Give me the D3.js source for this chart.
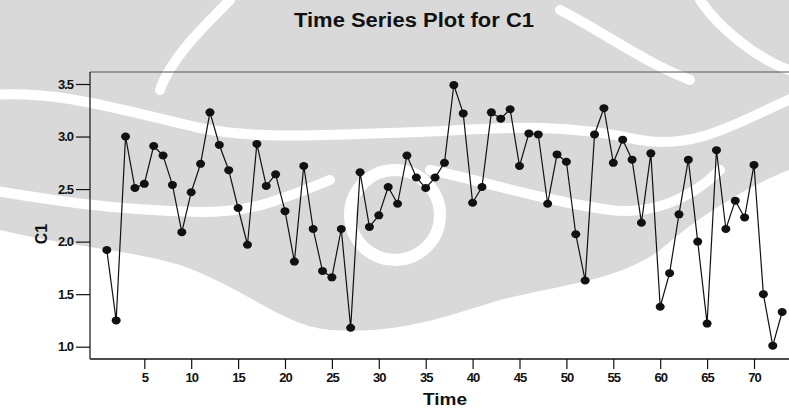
<!DOCTYPE html>
<html>
<head>
<meta charset="utf-8">
<script src="https://cdn.jsdelivr.net/npm/d3@7"></script>
<style>
  body { margin: 0; background: #fff; }
  text { font-family: "Liberation Sans", Arial, sans-serif; font-weight: bold; fill: #111; }
</style>
</head>
<body>
<div id="chart"></div>
<script>
// C1 values, one per time index 1..73
const c1 = [
  1.92, 1.25, 3.00, 2.51, 2.55, 2.91, 2.82, 2.54, 2.09, 2.47,
  2.74, 3.23, 2.92, 2.68, 2.32, 1.97, 2.93, 2.53, 2.64, 2.29,
  1.81, 2.72, 2.12, 1.72, 1.66, 2.12, 1.18, 2.66, 2.14, 2.25,
  2.52, 2.36, 2.82, 2.61, 2.51, 2.61, 2.75, 3.49, 3.22, 2.37,
  2.52, 3.23, 3.17, 3.26, 2.72, 3.03, 3.02, 2.36, 2.83, 2.76,
  2.07, 1.63, 3.02, 3.27, 2.75, 2.97, 2.78, 2.18, 2.84, 1.38,
  1.70, 2.26, 2.78, 2.00, 1.22, 2.87, 2.12, 2.39, 2.23, 2.73,
  1.50, 1.01, 1.33
];
const xTicks = [5, 10, 15, 20, 25, 30, 35, 40, 45, 50, 55, 60, 65, 70];
const yTicks = [1.0, 1.5, 2.0, 2.5, 3.0, 3.5];
const title = "Time Series Plot for C1";
const xTitle = "Time";
const yTitle = "C1";

const W = 789, H = 409;
const frame = { left: 90, top: 72, bottom: 359 };

const svg = d3.select("#chart").append("svg")
  .attr("width", W).attr("height", H);

// faint background watermark
const wm = svg.append("g");
wm.append("rect").attr("width", W).attr("height", H).attr("fill", "#fff");
wm.append("path")
  .attr("d", "M0,0 L789,0 L789,170 C750,185 700,215 660,250 C620,280 560,285 500,300 C450,315 400,335 330,330 C280,325 250,290 180,265 C130,250 60,245 0,230 Z")
  .attr("fill", "#d9d9d9");
const bands = [
  "M-10,95 C60,90 120,110 200,128 C260,140 320,135 420,132 C500,128 560,122 640,140 C700,150 740,120 800,95",
  "M-10,190 C50,200 110,210 200,212 C250,213 280,200 330,180",
  "M430,170 C480,180 540,200 610,210 C650,215 690,200 720,170",
  "M560,10 C600,30 640,60 690,80",
  "M230,0 C200,30 170,60 160,90",
  "M700,0 C720,30 760,60 789,70"
];
wm.selectAll("path.band").data(bands).join("path")
  .attr("class", "band")
  .attr("d", d => d)
  .attr("fill", "none")
  .attr("stroke", "#fff")
  .attr("stroke-width", 10)
  .attr("stroke-linecap", "round");
wm.append("circle").attr("cx", 395).attr("cy", 215).attr("r", 45)
  .attr("fill", "none").attr("stroke", "#fff").attr("stroke-width", 12);

const x = d3.scaleLinear().domain([5, 70]).range([144.3, 754]);
const y = d3.scaleLinear().domain([1.0, 3.5]).range([346.7, 84]);

// frame
svg.append("line").attr("x1", frame.left).attr("x2", W).attr("y1", frame.top).attr("y2", frame.top)
  .attr("stroke", "#555").attr("stroke-width", 1);
svg.append("line").attr("x1", frame.left).attr("x2", frame.left).attr("y1", frame.top).attr("y2", frame.bottom)
  .attr("stroke", "#222").attr("stroke-width", 1.3);

// axes
const xAxis = svg.append("g")
  .attr("transform", `translate(0, ${frame.bottom})`)
  .call(d3.axisBottom(x).tickValues(xTicks).tickSize(10).tickSizeOuter(0).tickPadding(4));
xAxis.select(".domain").attr("d", `M${frame.left},0H${W}`).attr("stroke", "#111").attr("stroke-width", 1.3);

const yAxis = svg.append("g")
  .attr("transform", `translate(${frame.left}, 0)`)
  .call(d3.axisLeft(y).tickValues(yTicks).tickFormat(d3.format(".1f")).tickSize(14).tickPadding(3));
yAxis.select(".domain").remove();

svg.selectAll(".tick line").attr("stroke", "#111").attr("stroke-width", 1.2);
svg.selectAll(".tick text")
  .style("font-family", "'Liberation Sans', Arial, sans-serif")
  .style("font-weight", "bold")
  .style("font-size", "13px")
  .style("letter-spacing", "-1px")
  .attr("fill", "#111");

// series
const line = d3.line().x((d, i) => x(i + 1)).y(d => y(d));
svg.append("path").datum(c1)
  .attr("d", line)
  .attr("fill", "none")
  .attr("stroke", "#111")
  .attr("stroke-width", 1.2);

svg.append("g").selectAll("ellipse").data(c1).join("ellipse")
  .attr("cx", (d, i) => x(i + 1))
  .attr("cy", d => y(d))
  .attr("rx", 4.5).attr("ry", 4)
  .attr("fill", "#111");

// titles
svg.append("text").attr("x", 414).attr("y", 27).attr("text-anchor", "middle")
  .attr("textLength", 240).attr("lengthAdjust", "spacingAndGlyphs")
  .style("font-size", "20px").text(title);
svg.append("text").attr("x", 445).attr("y", 405).attr("text-anchor", "middle")
  .attr("textLength", 44).attr("lengthAdjust", "spacingAndGlyphs")
  .style("font-size", "17px").text(xTitle);
svg.append("text").attr("transform", "translate(47, 234) rotate(-90)").attr("text-anchor", "middle")
  .style("font-size", "16px").text(yTitle);
</script>
</body>
</html>
